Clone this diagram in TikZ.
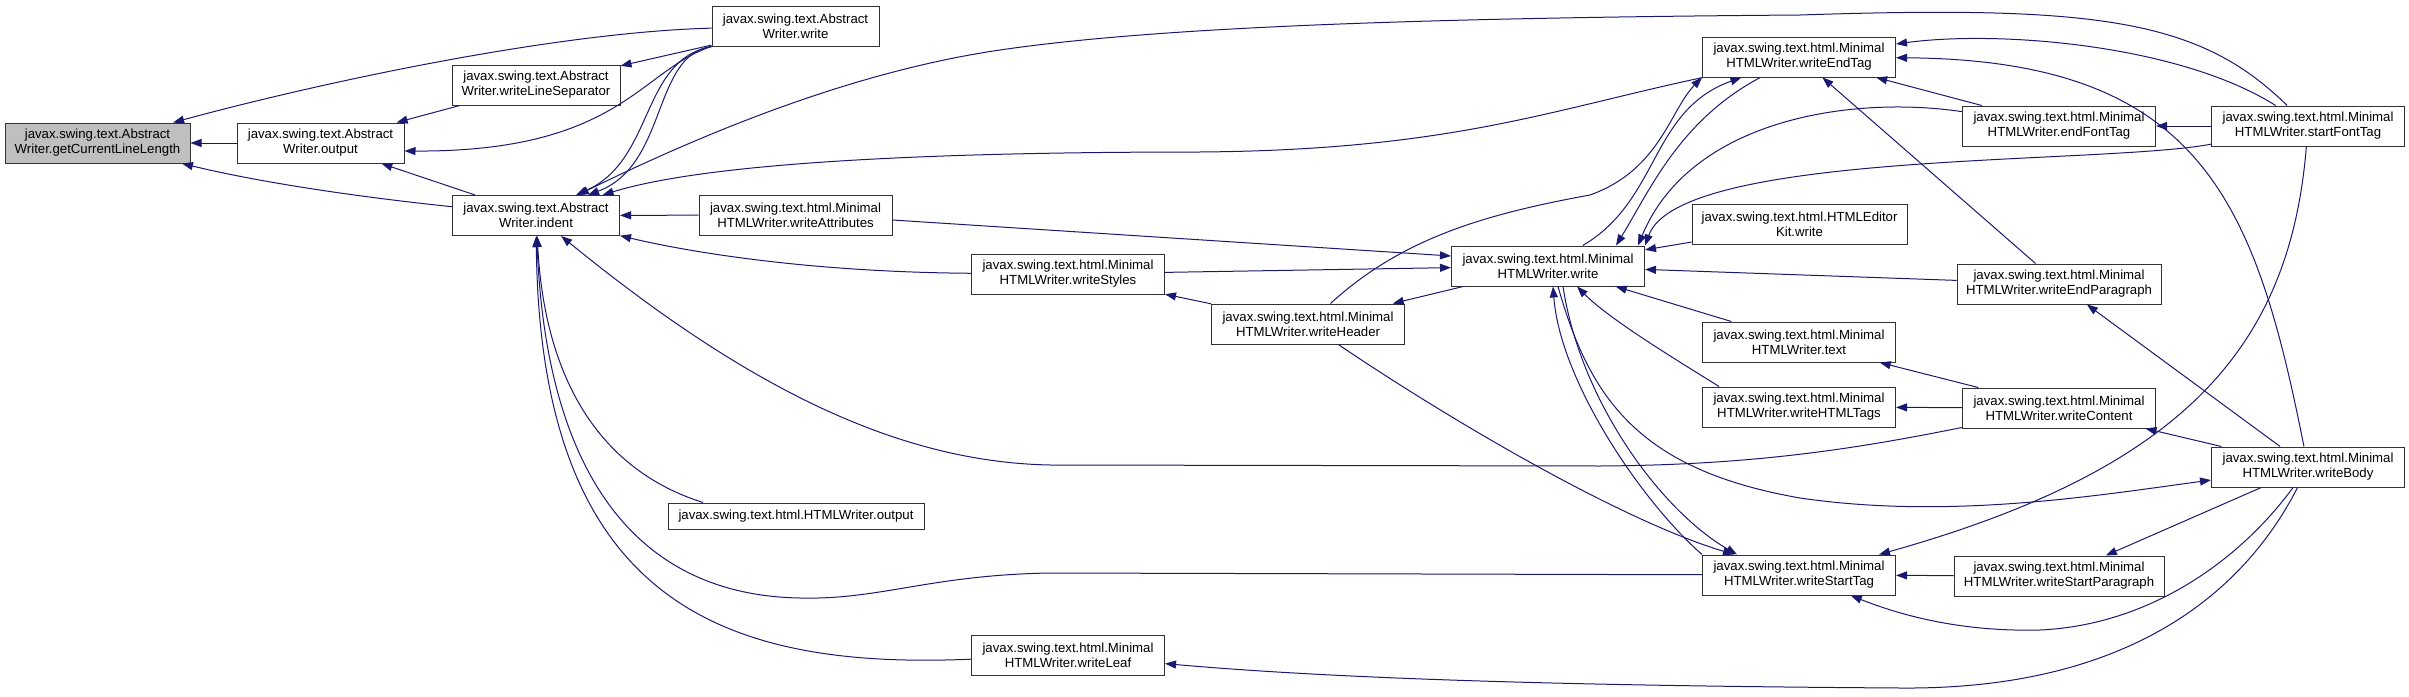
\documentclass[tikz,border=0pt]{standalone}
\usepackage{fontspec}
\setmainfont{Liberation Sans}
\usetikzlibrary{arrows.meta}
\definecolor{callblue}{HTML}{191970}

\begin{document}
\begin{tikzpicture}[
    x=1pt, y=-1pt,
    fn/.style={draw=black!80, fill=white, line width=1pt, minimum width=193pt, minimum height=40pt,
               inner sep=0pt, align=center, font=\fontsize{13.2}{15}\selectfont},
    absfn/.style={fn, minimum width=167pt},
    rootfn/.style={fn, fill=black!25, minimum width=185pt},
    calledge/.style={draw=callblue, line width=1pt, -{Triangle[length=11pt, width=8pt]}}
]
    \useasboundingbox (0,0) rectangle (2409,696);

    % AbstractWriter
    \node[rootfn] (gcl) at (97.5,143) {javax.swing.text.Abstract\\Writer.getCurrentLineLength};
    \node[absfn] (awOutput) at (320.5,143) {javax.swing.text.Abstract\\Writer.output};
    \node[absfn, minimum width=168pt] (awLineSep) at (536,85) {javax.swing.text.Abstract\\Writer.writeLineSeparator};
    \node[absfn] (awIndent) at (536,215.5) {javax.swing.text.Abstract\\Writer.indent};
    \node[absfn] (awWrite) at (795.5,26) {javax.swing.text.Abstract\\Writer.write};

    % MinimalHTMLWriter
    \node[fn] (mhAttr) at (795.5,215) {javax.swing.text.html.Minimal\\HTMLWriter.writeAttributes};
    \node[fn] (mhStyles) at (1068,274) {javax.swing.text.html.Minimal\\HTMLWriter.writeStyles};
    \node[fn, minimum width=256pt, minimum height=26pt] (hwOutput) at (796,516) {javax.swing.text.html.HTMLWriter.output};
    \node[fn] (mhLeaf) at (1068,655) {javax.swing.text.html.Minimal\\HTMLWriter.writeLeaf};
    \node[fn] (mhHeader) at (1308,324) {javax.swing.text.html.Minimal\\HTMLWriter.writeHeader};
    \node[fn] (mhWrite) at (1548,266) {javax.swing.text.html.Minimal\\HTMLWriter.write};
    \node[fn] (mhEndTag) at (1799,57) {javax.swing.text.html.Minimal\\HTMLWriter.writeEndTag};
    \node[fn, minimum width=215pt] (kitWrite) at (1799.5,224) {javax.swing.text.html.HTMLEditor\\Kit.write};
    \node[fn] (mhText) at (1799,342) {javax.swing.text.html.Minimal\\HTMLWriter.text};
    \node[fn] (mhHTMLTags) at (1799,407) {javax.swing.text.html.Minimal\\HTMLWriter.writeHTMLTags};
    \node[fn] (mhStartTag) at (1799,575) {javax.swing.text.html.Minimal\\HTMLWriter.writeStartTag};
    \node[fn] (mhEndFont) at (2059,126) {javax.swing.text.html.Minimal\\HTMLWriter.endFontTag};
    \node[fn, minimum width=204pt] (mhEndPara) at (2059,284) {javax.swing.text.html.Minimal\\HTMLWriter.writeEndParagraph};
    \node[fn] (mhContent) at (2059,408) {javax.swing.text.html.Minimal\\HTMLWriter.writeContent};
    \node[fn, minimum width=210pt] (mhStartPara) at (2059,576) {javax.swing.text.html.Minimal\\HTMLWriter.writeStartParagraph};
    \node[fn] (mhStartFont) at (2308,126) {javax.swing.text.html.Minimal\\HTMLWriter.startFontTag};
    \node[fn] (mhBody) at (2308,467) {javax.swing.text.html.Minimal\\HTMLWriter.writeBody};

    % calls into AbstractWriter
    \draw[calledge] (awWrite) .. controls (560,32) and (330,80) .. (gcl);
    \draw[calledge] (awOutput) -- (gcl);
    \draw[calledge] (awIndent) .. controls (340,195) and (250,180) .. (gcl);
    \draw[calledge] (awLineSep) -- (awOutput);
    \draw[calledge] (awWrite.south west) .. controls (640,70) and (620,152) .. ([yshift=-8pt]awOutput.east);
    \draw[calledge] (awIndent) -- (awOutput);
    \draw[calledge] (awWrite) -- (awLineSep);
    \draw[calledge] (awWrite.south west) .. controls (640,60) and (655,160) .. ([xshift=40pt]awIndent.north);
    \draw[calledge] (awWrite.south west) .. controls (652,55) and (668,165) .. ([xshift=52pt]awIndent.north);
    \draw[calledge] (mhAttr) -- (awIndent);
    \draw[calledge] (mhStyles) .. controls (800,272) and (680,250) .. (awIndent);
    \draw[calledge] (mhEndTag) .. controls (1550,110) and (1450,150) .. (1200,152) .. controls (900,152) and (700,165) .. (awIndent);
    \draw[calledge] (mhStartFont) .. controls (2200,20) and (2100,5) .. (1800,15) .. controls (1400,18) and (1150,28) .. (1000,50) .. controls (850,72) and (700,135) .. (awIndent);
    \draw[calledge] (mhContent) .. controls (1850,450) and (1750,465) .. (1600,466) -- (1050,465) .. controls (900,462) and (750,390) .. (awIndent);
    \draw[calledge] (mhStartTag) -- (1050,573) .. controls (930,575) and (880,600) .. (800,598) .. controls (620,595) and (545,450) .. (awIndent);
    \draw[calledge] ([xshift=-93pt]hwOutput.north) .. controls (600,470) and (545,380) .. (awIndent);
    \draw[calledge] (mhLeaf) .. controls (720,670) and (540,600) .. (awIndent);

    % calls around MinimalHTMLWriter.write
    \draw[calledge] ([yshift=-5pt]mhAttr.east) -- ([yshift=10pt]mhWrite.west);
    \draw[calledge] (mhStyles) -- (mhWrite);
    \draw[calledge] (mhHeader) -- (mhStyles);
    \draw[calledge] (mhWrite) -- (mhHeader);
    \draw[calledge] (mhHeader) .. controls (1400,240) and (1480,215) .. (1590,195) .. controls (1660,170) and (1670,110) .. (mhEndTag.south west);
    \draw[calledge] (mhHeader) .. controls (1450,420) and (1620,520) .. ([xshift=-65pt]mhStartTag.north);
    \draw[calledge] (mhWrite) .. controls (1660,200) and (1650,110) .. (mhEndTag);
    \draw[calledge] (mhEndTag) .. controls (1680,120) and (1650,190) .. ([xshift=68pt]mhWrite.north);
    \draw[calledge] (mhEndFont) .. controls (1850,95) and (1690,120) .. ([xshift=90pt]mhWrite.north);
    \draw[calledge] (mhStartFont) .. controls (2100,165) and (1680,150) .. (mhWrite.north east);
    \draw[calledge] (mhStartTag.north west) .. controls (1640,500) and (1560,380) .. ([xshift=5pt]mhWrite.south);
    \draw[calledge] ([xshift=15pt]mhWrite.south) .. controls (1580,400) and (1660,510) .. ([xshift=-62pt]mhStartTag.north);
    \draw[calledge] ([xshift=10pt]mhWrite.south) .. controls (1590,400) and (1640,470) .. (1800,498) .. controls (1950,520) and (2100,495) .. (mhBody);
    \draw[calledge] (mhText) -- (mhWrite);
    \draw[calledge] ([xshift=-80pt]mhHTMLTags.north) .. controls (1680,362) and (1610,320) .. ([xshift=29pt]mhWrite.south);
    \draw[calledge] (kitWrite) -- (mhWrite);
    \draw[calledge] (mhEndPara) -- (mhWrite);

    % right-hand callers
    \draw[calledge] (mhStartFont) .. controls (2180,45) and (2000,30) .. (mhEndTag);
    \draw[calledge] (mhBody) .. controls (2255,200) and (2200,60) .. (mhEndTag);
    \draw[calledge] (mhEndFont) -- (mhEndTag);
    \draw[calledge] (mhEndPara) -- (mhEndTag);
    \draw[calledge] (mhStartFont) -- (mhEndFont);
    \draw[calledge] (mhStartFont) .. controls (2290,350) and (2180,470) .. ([xshift=80pt]mhStartTag.north);
    \draw[calledge] (mhContent) -- (mhText);
    \draw[calledge] (mhContent) -- (mhHTMLTags);
    \draw[calledge] (mhBody) -- (mhEndPara);
    \draw[calledge] (mhBody) -- (mhContent);
    \draw[calledge] (mhBody) -- (mhStartPara);
    \draw[calledge] (mhBody) .. controls (2240,560) and (2150,625) .. (2040,630) .. controls (1960,632) and (1900,615) .. (mhStartTag);
    \draw[calledge] (mhBody) .. controls (2240,600) and (2120,690) .. (1900,688) .. controls (1600,686) and (1350,680) .. (mhLeaf);
    \draw[calledge] (mhStartPara) -- (mhStartTag);
\end{tikzpicture}
\end{document}
